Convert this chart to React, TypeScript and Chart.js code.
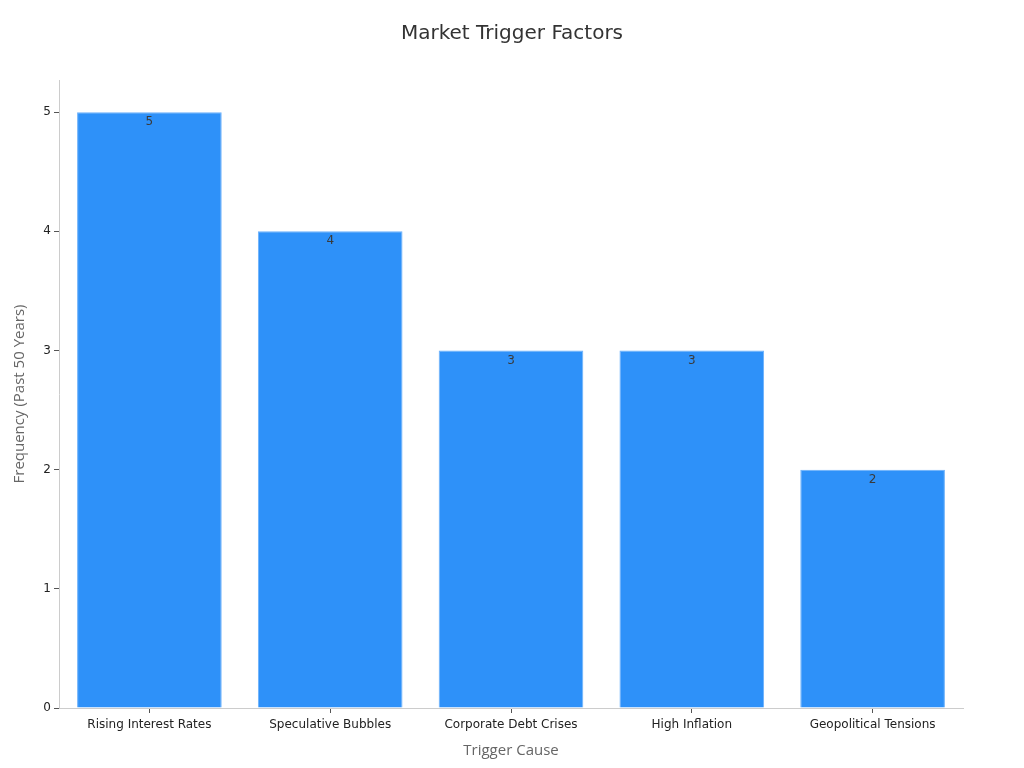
import React, { useEffect, useRef } from "react";
import { Chart, registerables } from "chart.js";

Chart.register(...registerables);

const categories = [
  "Rising Interest Rates",
  "Speculative Bubbles",
  "Corporate Debt Crises",
  "High Inflation",
  "Geopolitical Tensions",
];
const frequencies = [5, 4, 3, 3, 2];
const yTickValues = [0, 1, 2, 3, 4, 5];
const chartTitle = "Market Trigger Factors";

const FONT = "'DejaVu Sans', sans-serif";

const valueLabels = {
  id: "valueLabels",
  afterDatasetsDraw(chart: any) {
    const ctx = chart.ctx;
    const meta = chart.getDatasetMeta(0);
    ctx.save();
    ctx.font = `12px ${FONT}`;
    ctx.fillStyle = "#3a3a3a";
    ctx.textAlign = "center";
    ctx.textBaseline = "middle";
    meta.data.forEach((el: any, i: number) => {
      ctx.fillText(String(frequencies[i]), el.x, el.y + 10);
    });
    ctx.restore();
  },
};

const centeredTitle = {
  id: "centeredTitle",
  afterDraw(chart: any) {
    const ctx = chart.ctx;
    ctx.save();
    ctx.font = `20px ${FONT}`;
    ctx.fillStyle = "#333333";
    ctx.textAlign = "center";
    ctx.textBaseline = "middle";
    ctx.fillText(chartTitle, chart.width / 2, 34);
    ctx.restore();
  },
};

export default function App() {
  const ref = useRef<HTMLCanvasElement | null>(null);
  useEffect(() => {
    if (!ref.current) return;
    const chart = new Chart(ref.current, {
      type: "bar",
      data: {
        labels: categories,
        datasets: [
          {
            data: frequencies,
            backgroundColor: "#2E91F9",
            borderColor: "#6AB0FB",
            borderWidth: 1,
            categoryPercentage: 1,
            barPercentage: 0.8,
          },
        ],
      },
      options: {
        animation: false,
        responsive: true,
        maintainAspectRatio: false,
        layout: { padding: { left: 0, right: 61, top: 80, bottom: 0 } },
        plugins: {
          legend: { display: false },
          tooltip: { enabled: false },
          title: { display: false },
        },
        scales: {
          x: {
            grid: { display: true, drawOnChartArea: false, color: "#555555", tickLength: 5, offset: false },
            border: { color: "#cccccc" },
            ticks: { color: "#222222", font: { family: FONT, size: 12 }, padding: 5 },
            title: {
              display: true,
              text: "Trigger Cause",
              color: "#666666",
              font: { family: "'Open Sans', sans-serif", size: 15 },
              padding: { top: 4, bottom: 8 },
            },
            afterFit(scale: any) {
              scale.height = 60;
            },
          },
          y: {
            min: 0,
            max: 5.27,
            grid: { display: true, drawOnChartArea: false, color: "#555555", tickLength: 5 },
            border: { color: "#cccccc" },
            ticks: { color: "#222222", font: { family: FONT, size: 12 }, padding: 3, stepSize: 1 },
            afterBuildTicks(scale: any) {
              scale.ticks = yTickValues.map((v) => ({ value: v }));
            },
            title: {
              display: true,
              text: "Frequency (Past 50 Years)",
              color: "#666666",
              font: { family: "'Open Sans', sans-serif", size: 15 },
              padding: { top: 11, bottom: 8 },
            },
            afterFit(scale: any) {
              scale.width = 59;
            },
          },
        },
      },
      plugins: [valueLabels, centeredTitle],
    });
    return () => chart.destroy();
  }, []);
  return (
    <div style={{ position: "fixed", left: 0, top: 0, width: 1024, height: 768, background: "#fff" }}>
      <canvas ref={ref} />
    </div>
  );
}
